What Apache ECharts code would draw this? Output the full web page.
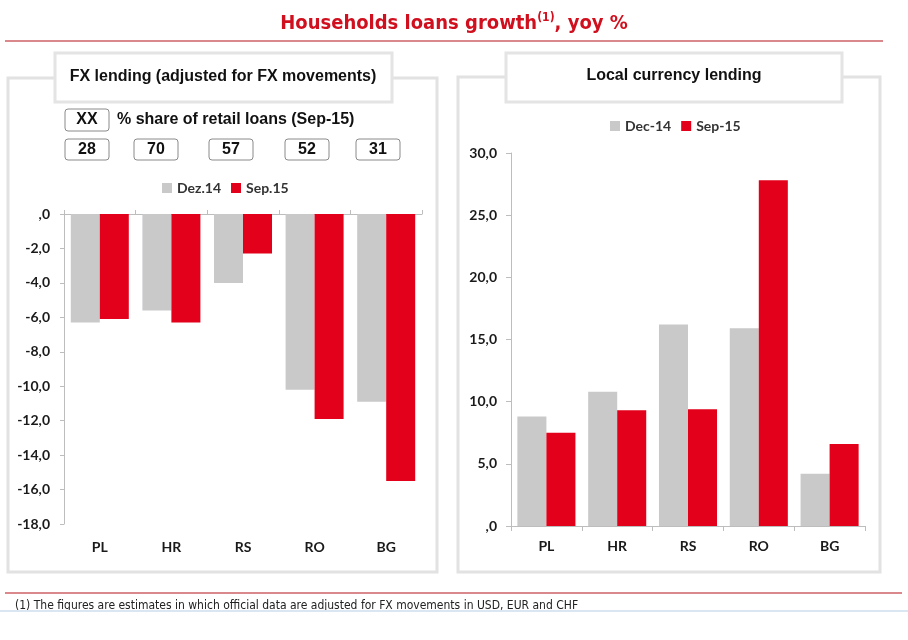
<!DOCTYPE html>
<html><head><meta charset="utf-8">
<script src="https://cdn.jsdelivr.net/npm/echarts@6/dist/echarts.min.js"></script>
<style>html,body{margin:0;padding:0;background:#fff}#c{width:908px;height:640px}</style>
</head><body><div id="c"></div>
<script>
const categories = ['PL', 'HR', 'RS', 'RO', 'BG'];
const fxDec14 = [-6.3, -5.6, -4.0, -10.2, -10.9];
const fxSep15 = [-6.1, -6.3, -2.3, -11.9, -15.5];
const fxShare = [28, 70, 57, 52, 31];
const lcDec14 = [8.8, 10.8, 16.2, 15.9, 4.2];
const lcSep15 = [7.5, 9.3, 9.4, 27.8, 6.6];
const fxAxis = { min: -18, max: 0, interval: 2 };
const lcAxis = { min: 0, max: 30, interval: 5 };

const GRAY = '#c9c9c9', RED = '#e2001a', AXIS = '#bdbdbd';
const labelFont = { fontFamily: 'Lato, "Open Sans", sans-serif', fontWeight: 'bold', fontSize: 14, color: '#1a1a1a' };
const arial = 'Liberation Sans, Arial, sans-serif';
const narrow = '"Liberation Sans Narrow", "Arial Narrow", "DejaVu Sans Condensed", sans-serif';
const fmt = v => (v === 0 ? ',0' : v.toFixed(1).replace('.', ','));

const chart = echarts.init(document.getElementById('c'), null, { renderer: 'canvas' });

const shareX = [65, 134, 209, 285, 356];
const graphics = [
  // title
  { type: 'text', left: 'center', top: 10, z: 10,
    style: { text: '{t|Households loans growth}{s|(1)}{t|, yoy %}',
      rich: {
        t: { fontFamily: narrow, fontWeight: 'bold', fontSize: 20, fill: '#d0101e', lineHeight: 24, verticalAlign: 'bottom' },
        s: { fontFamily: narrow, fontWeight: 'bold', fontSize: 12, fill: '#d0101e', lineHeight: 22, verticalAlign: 'top', padding: [2, 0, 0, 0] }
      } } },
  { type: 'line', shape: { x1: 5, y1: 41, x2: 883, y2: 41 }, style: { stroke: '#b5121b', lineWidth: 1.2 } },
  // panels
  { type: 'rect', z: -1, shape: { x: 8, y: 78, width: 429, height: 494 }, style: { fill: 'transparent', stroke: '#e2e2e2', lineWidth: 3 } },
  { type: 'rect', z: -1, shape: { x: 458, y: 77, width: 422, height: 495 }, style: { fill: 'transparent', stroke: '#e2e2e2', lineWidth: 3 } },
  { type: 'rect', z: 1, shape: { x: 55, y: 53, width: 337, height: 49 }, style: { fill: '#fff', stroke: '#e4e4e4', lineWidth: 3 } },
  { type: 'rect', z: 1, shape: { x: 506, y: 53, width: 336, height: 49 }, style: { fill: '#fff', stroke: '#e4e4e4', lineWidth: 3 } },
  { type: 'text', z: 2, x: 223, y: 77, style: { text: 'FX lending (adjusted for FX movements)', font: 'bold 16px ' + arial, fill: '#111', align: 'center', verticalAlign: 'middle' } },
  { type: 'text', z: 2, x: 674, y: 76, style: { text: 'Local currency lending', font: 'bold 16px ' + arial, fill: '#111', align: 'center', verticalAlign: 'middle' } },
  // share legend
  { type: 'rect', shape: { x: 65, y: 109, width: 44, height: 22, r: 3 }, style: { fill: '#fff', stroke: '#8a8a8a', lineWidth: 1 } },
  { type: 'text', x: 87, y: 120, style: { text: 'XX', font: 'bold 16px ' + arial, fill: '#111', align: 'center', verticalAlign: 'middle' } },
  { type: 'text', x: 117, y: 120, style: { text: '% share of retail loans (Sep-15)', font: 'bold 16px ' + arial, fill: '#111', align: 'left', verticalAlign: 'middle' } },
  // footnote
  { type: 'line', shape: { x1: 5, y1: 593, x2: 902, y2: 593 }, style: { stroke: '#b5121b', lineWidth: 1.2 } },
  { type: 'text', x: 15, y: 606, z: 1, style: { text: '(1) The figures are estimates in which official data are adjusted for FX movements in USD, EUR and CHF', font: '12px ' + narrow, fill: '#222', align: 'left', verticalAlign: 'middle' } },
  { type: 'rect', z: 2, shape: { x: 0, y: 610, width: 908, height: 30 }, style: { fill: '#fff' } },
  { type: 'line', z: 3, shape: { x1: 0, y1: 611, x2: 908, y2: 611 }, style: { stroke: '#dbe6f3', lineWidth: 2 } }
];
fxShare.forEach((v, i) => {
  graphics.push({ type: 'rect', shape: { x: shareX[i], y: 139, width: 44, height: 21, r: 3 }, style: { fill: '#fff', stroke: '#8a8a8a', lineWidth: 1 } });
  graphics.push({ type: 'text', x: shareX[i] + 22, y: 150, style: { text: String(v), font: 'bold 16px ' + arial, fill: '#111', align: 'center', verticalAlign: 'middle' } });
});

const legendText = { fontFamily: labelFont.fontFamily, fontWeight: 'bold', fontSize: 14, color: '#333' };
const option = {
  animation: false,
  backgroundColor: '#fff',
  graphic: graphics,
  legend: [
    { data: ['Dez.14', 'Sep.15'], left: 157, top: 176, icon: 'rect', itemWidth: 10, itemHeight: 10, itemGap: 10, textStyle: legendText },
    { data: ['Dec-14', 'Sep-15'], left: 605, top: 114, icon: 'rect', itemWidth: 10, itemHeight: 10, itemGap: 10, textStyle: legendText }
  ],
  grid: [
    { left: 64, top: 214, width: 358, height: 310 },
    { left: 511, top: 153, width: 354, height: 373 }
  ],
  xAxis: [
    { type: 'category', gridIndex: 0, data: categories, position: 'bottom',
      axisLine: { show: false, onZero: false }, axisTick: { show: false },
      axisLabel: Object.assign({ margin: 16 }, labelFont) },
    { type: 'category', gridIndex: 0, data: categories, position: 'top',
      axisLine: { show: true, onZero: false, lineStyle: { color: AXIS } },
      axisTick: { show: true, length: 4, lineStyle: { color: AXIS } }, axisLabel: { show: false } },
    { type: 'category', gridIndex: 1, data: categories, position: 'bottom',
      axisLine: { show: true, lineStyle: { color: AXIS } },
      axisTick: { show: true, length: 5, lineStyle: { color: AXIS } },
      axisLabel: Object.assign({ margin: 13 }, labelFont) }
  ],
  yAxis: [
    { type: 'value', gridIndex: 0, min: fxAxis.min, max: fxAxis.max, interval: fxAxis.interval,
      axisLine: { show: true, lineStyle: { color: AXIS } }, axisTick: { show: true, length: 4, lineStyle: { color: AXIS } },
      splitLine: { show: false }, axisLabel: Object.assign({ margin: 14, formatter: fmt }, labelFont) },
    { type: 'value', gridIndex: 1, min: lcAxis.min, max: lcAxis.max, interval: lcAxis.interval,
      axisLine: { show: true, lineStyle: { color: AXIS } }, axisTick: { show: true, length: 5, lineStyle: { color: AXIS } },
      splitLine: { show: false }, axisLabel: Object.assign({ margin: 14, formatter: fmt }, labelFont) }
  ],
  series: [
    { name: 'Dez.14', type: 'bar', xAxisIndex: 0, yAxisIndex: 0, data: fxDec14, itemStyle: { color: GRAY }, barGap: '0%', barCategoryGap: '19%' },
    { name: 'Sep.15', type: 'bar', xAxisIndex: 0, yAxisIndex: 0, data: fxSep15, itemStyle: { color: RED }, barGap: '0%', barCategoryGap: '19%' },
    { name: 'Dec-14', type: 'bar', xAxisIndex: 2, yAxisIndex: 1, data: lcDec14, itemStyle: { color: GRAY }, barGap: '0%', barCategoryGap: '18%' },
    { name: 'Sep-15', type: 'bar', xAxisIndex: 2, yAxisIndex: 1, data: lcSep15, itemStyle: { color: RED }, barGap: '0%', barCategoryGap: '18%' }
  ]
};
chart.setOption(option);
</script></body></html>
